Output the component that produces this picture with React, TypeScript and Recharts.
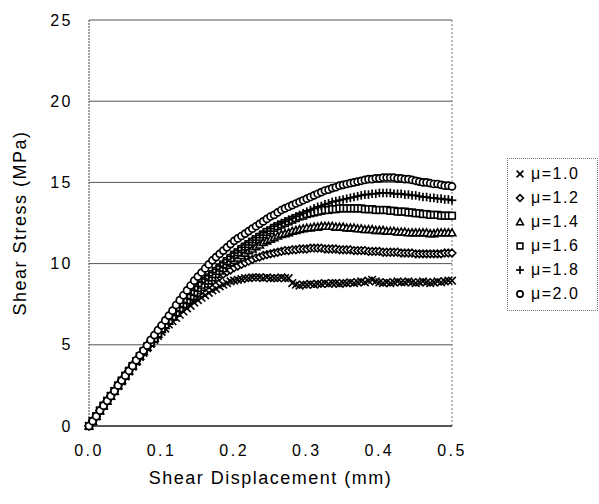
import React from "react";
import { LineChart, Line, XAxis, YAxis, CartesianGrid, ReferenceLine } from "recharts";

const xs = [
  0, 0.005, 0.01, 0.015, 0.02, 0.025, 0.03, 0.035, 0.04, 0.045,
  0.05, 0.055, 0.06, 0.065, 0.07, 0.075, 0.08, 0.085, 0.09, 0.095,
  0.1, 0.105, 0.11, 0.115, 0.12, 0.125, 0.13, 0.135, 0.14, 0.145,
  0.15, 0.155, 0.16, 0.165, 0.17, 0.175, 0.18, 0.185, 0.19, 0.195,
  0.2, 0.205, 0.21, 0.215, 0.22, 0.225, 0.23, 0.235, 0.24, 0.245,
  0.25, 0.255, 0.26, 0.265, 0.27, 0.275, 0.28, 0.285, 0.29, 0.295,
  0.3, 0.305, 0.31, 0.315, 0.32, 0.325, 0.33, 0.335, 0.34, 0.345,
  0.35, 0.355, 0.36, 0.365, 0.37, 0.375, 0.38, 0.385, 0.39, 0.395,
  0.4, 0.405, 0.41, 0.415, 0.42, 0.425, 0.43, 0.435, 0.44, 0.445,
  0.45, 0.455, 0.46, 0.465, 0.47, 0.475, 0.48, 0.485, 0.49, 0.495,
  0.5,
];

const mu10 = [
  0, 0.3, 0.6, 0.95, 1.25, 1.55, 1.85, 2.15, 2.45, 2.75,
  3.05, 3.35, 3.65, 3.95, 4.25, 4.5, 4.8, 5.05, 5.3, 5.55,
  5.8, 6.0, 6.25, 6.45, 6.65, 6.85, 7.05, 7.25, 7.4, 7.6,
  7.75, 7.9, 8.05, 8.2, 8.35, 8.45, 8.6, 8.7, 8.8, 8.9,
  8.95, 9.0, 9.05, 9.1, 9.1, 9.15, 9.15, 9.15, 9.1, 9.15,
  9.1, 9.1, 9.1, 9.15, 9.1, 9.1, 8.8, 8.7, 8.65, 8.7,
  8.7, 8.75, 8.7, 8.75, 8.75, 8.8, 8.75, 8.8, 8.8, 8.75,
  8.8, 8.8, 8.85, 8.8, 8.85, 8.9, 8.85, 8.95, 9.0, 8.9,
  8.85, 8.8, 8.85, 8.8, 8.85, 8.9, 8.85, 8.85, 8.9, 8.85,
  8.8, 8.85, 8.9, 8.85, 8.8, 8.85, 8.9, 8.85, 8.9, 8.95,
  8.95,
];

const mu12 = [
  0, 0.3, 0.6, 0.95, 1.25, 1.55, 1.85, 2.15, 2.5, 2.8,
  3.1, 3.4, 3.7, 4.0, 4.3, 4.55, 4.85, 5.1, 5.35, 5.6,
  5.9, 6.15, 6.4, 6.6, 6.85, 7.1, 7.3, 7.55, 7.75, 7.95,
  8.15, 8.35, 8.55, 8.7, 8.9, 9.05, 9.2, 9.35, 9.5, 9.6,
  9.75, 9.85, 9.95, 10.05, 10.15, 10.25, 10.35, 10.4, 10.5, 10.55,
  10.6, 10.65, 10.7, 10.75, 10.8, 10.8, 10.85, 10.85, 10.9, 10.9,
  10.9, 10.95, 10.95, 10.95, 10.95, 10.9, 10.9, 10.9, 10.9, 10.85,
  10.85, 10.85, 10.85, 10.8, 10.8, 10.8, 10.8, 10.75, 10.75, 10.75,
  10.75, 10.7, 10.7, 10.7, 10.7, 10.7, 10.65, 10.65, 10.65, 10.65,
  10.6, 10.6, 10.6, 10.6, 10.6, 10.6, 10.6, 10.6, 10.65, 10.65,
  10.65,
];

const mu14 = [
  0, 0.3, 0.6, 0.95, 1.25, 1.55, 1.85, 2.15, 2.5, 2.8,
  3.1, 3.4, 3.7, 4.0, 4.3, 4.6, 4.85, 5.1, 5.4, 5.65,
  5.95, 6.2, 6.45, 6.7, 6.95, 7.2, 7.45, 7.7, 7.9, 8.15,
  8.35, 8.55, 8.75, 8.95, 9.15, 9.35, 9.55, 9.7, 9.9, 10.05,
  10.2, 10.35, 10.5, 10.65, 10.8, 10.9, 11.05, 11.15, 11.3, 11.4,
  11.5, 11.6, 11.7, 11.8, 11.85, 11.9, 12.0, 12.05, 12.1, 12.15,
  12.2, 12.2, 12.25, 12.25, 12.3, 12.3, 12.3, 12.3, 12.25, 12.25,
  12.25, 12.2, 12.2, 12.2, 12.15, 12.15, 12.1, 12.1, 12.1, 12.05,
  12.05, 12.05, 12.0, 12.0, 12.0, 11.95, 11.95, 11.95, 11.9, 11.9,
  11.9, 11.9, 11.9, 11.9, 11.85, 11.85, 11.9, 11.9, 11.9, 11.9,
  11.9,
];

const mu16 = [
  0, 0.3, 0.6, 0.95, 1.25, 1.55, 1.85, 2.15, 2.5, 2.8,
  3.1, 3.4, 3.7, 4.0, 4.3, 4.6, 4.9, 5.15, 5.4, 5.7,
  6.0, 6.25, 6.5, 6.75, 7.0, 7.25, 7.5, 7.75, 8.0, 8.25,
  8.5, 8.7, 8.95, 9.15, 9.35, 9.55, 9.75, 9.95, 10.15, 10.35,
  10.55, 10.7, 10.9, 11.05, 11.2, 11.35, 11.5, 11.65, 11.8, 11.95,
  12.05, 12.2, 12.3, 12.4, 12.5, 12.6, 12.7, 12.8, 12.9, 12.95,
  13.05, 13.1, 13.15, 13.2, 13.25, 13.3, 13.3, 13.35, 13.35, 13.4,
  13.4, 13.4, 13.4, 13.4, 13.4, 13.4, 13.35, 13.35, 13.35, 13.3,
  13.3, 13.3, 13.3, 13.25, 13.25, 13.2, 13.2, 13.2, 13.15, 13.15,
  13.1, 13.1, 13.05, 13.05, 13.0, 13.0, 13.0, 12.95, 12.95, 12.95,
  12.95,
];

const mu18 = [
  0, 0.3, 0.6, 0.95, 1.25, 1.55, 1.85, 2.15, 2.5, 2.8,
  3.1, 3.4, 3.7, 4.0, 4.3, 4.6, 4.9, 5.2, 5.45, 5.75,
  6.05, 6.3, 6.6, 6.85, 7.1, 7.35, 7.6, 7.85, 8.1, 8.35,
  8.6, 8.85, 9.05, 9.25, 9.45, 9.65, 9.85, 10.05, 10.25, 10.45,
  10.65, 10.8, 11.0, 11.15, 11.3, 11.45, 11.6, 11.75, 11.9, 12.0,
  12.15, 12.3, 12.4, 12.5, 12.6, 12.7, 12.8, 12.9, 13.0, 13.1,
  13.2, 13.3, 13.4, 13.5, 13.55, 13.65, 13.7, 13.8, 13.85, 13.9,
  13.95, 14.0, 14.05, 14.1, 14.15, 14.2, 14.25, 14.25, 14.3, 14.3,
  14.35, 14.35, 14.35, 14.35, 14.3, 14.3, 14.3, 14.25, 14.25, 14.2,
  14.2, 14.15, 14.1, 14.1, 14.05, 14.05, 14.0, 14.0, 13.95, 13.95,
  13.9,
];

const mu20 = [
  0, 0.3, 0.6, 0.95, 1.25, 1.55, 1.85, 2.15, 2.5, 2.8,
  3.1, 3.4, 3.7, 4.05, 4.35, 4.65, 4.95, 5.3, 5.6, 5.9,
  6.2, 6.5, 6.8, 7.1, 7.45, 7.75, 8.05, 8.35, 8.65, 8.95,
  9.2, 9.45, 9.7, 9.95, 10.2, 10.4, 10.6, 10.8, 11.0, 11.2,
  11.4, 11.55, 11.7, 11.85, 12.0, 12.15, 12.3, 12.45, 12.6, 12.75,
  12.9, 13.0, 13.15, 13.3, 13.4, 13.5, 13.6, 13.7, 13.8, 13.9,
  14.0, 14.1, 14.2, 14.3, 14.4, 14.5, 14.55, 14.65, 14.7, 14.8,
  14.85, 14.9, 14.95, 15.0, 15.05, 15.1, 15.15, 15.2, 15.2, 15.25,
  15.25, 15.3, 15.3, 15.3, 15.3, 15.25, 15.25, 15.2, 15.2, 15.15,
  15.1, 15.05, 15.0, 15.0, 14.95, 14.9, 14.9, 14.85, 14.8, 14.8,
  14.75,
];

const seriesNames = ["μ=1.0", "μ=1.2", "μ=1.4", "μ=1.6", "μ=1.8", "μ=2.0"];
const seriesKeys = ["m10", "m12", "m14", "m16", "m18", "m20"];
const seriesMarkers = ["cross", "diamond", "triangle", "square", "plus", "circle"];
const seriesValues = [mu10, mu12, mu14, mu16, mu18, mu20];

const xTicks = [0, 0.1, 0.2, 0.3, 0.4, 0.5];
const yTicks = [0, 5, 10, 15, 20, 25];

const data = xs.map((x, i) => {
  const row: any = { x };
  seriesKeys.forEach((k, s) => {
    row[k] = seriesValues[s][i];
  });
  return row;
});

const FONT = "'Liberation Sans', Arial, Helvetica, sans-serif";

function Marker({ type, cx, cy, s = 3.8 }: { type: string; cx: number; cy: number; s?: number }) {
  const common = { stroke: "#000", strokeWidth: 1.6, fill: "#fff" };
  switch (type) {
    case "cross":
      return (
        <g stroke="#000" strokeWidth={1.6}>
          <line x1={cx - s} y1={cy - s} x2={cx + s} y2={cy + s} />
          <line x1={cx - s} y1={cy + s} x2={cx + s} y2={cy - s} />
        </g>
      );
    case "plus":
      return (
        <g stroke="#000" strokeWidth={1.7}>
          <line x1={cx - s - 0.5} y1={cy} x2={cx + s + 0.5} y2={cy} />
          <line x1={cx} y1={cy - s - 0.5} x2={cx} y2={cy + s + 0.5} />
        </g>
      );
    case "diamond":
      return (
        <polygon
          points={`${cx},${cy - s} ${cx + s},${cy} ${cx},${cy + s} ${cx - s},${cy}`}
          {...common}
        />
      );
    case "triangle":
      return (
        <polygon
          points={`${cx},${cy - s} ${cx + s},${cy + s * 0.8} ${cx - s},${cy + s * 0.8}`}
          {...common}
        />
      );
    case "square":
      return <rect x={cx - s + 0.5} y={cy - s + 0.5} width={2 * s - 1} height={2 * s - 1} {...common} />;
    default:
      return <circle cx={cx} cy={cy} r={s - 0.3} {...common} strokeWidth={1.7} />;
  }
}

function LegendBox() {
  return (
    <div
      style={{
        position: "absolute",
        left: 507,
        top: 158,
        width: 91,
        border: "1px dotted #777",
        background: "#fff",
        padding: "3px 0 4px 5px",
        fontFamily: FONT,
        fontSize: 16,
        letterSpacing: 1.5,
        color: "#000",
        boxSizing: "border-box",
      }}
    >
      {seriesNames.map((n, i) => (
        <div key={n} style={{ display: "flex", alignItems: "center", height: 24 }}>
          <svg width={14} height={14} style={{ marginRight: 4 }}>
            <Marker type={seriesMarkers[i]} cx={7} cy={7} s={3.4} />
          </svg>
          <span>{n}</span>
        </div>
      ))}
    </div>
  );
}

export default function App() {
  return (
    <div style={{ position: "absolute", left: 0, top: 0, width: 599, height: 504, background: "#fff" }}>
      <LineChart
        width={599}
        height={504}
        data={data}
        margin={{ top: 20, right: 147, left: 0, bottom: 0 }}
      >
        <CartesianGrid vertical={false} stroke="#555" strokeWidth={1} />
        <XAxis
          dataKey="x"
          type="number"
          domain={[0, 0.5]}
          ticks={xTicks}
          tickFormatter={(v: number) => v.toFixed(1)}
          height={78}
          tickLine={false}
          tickSize={0}
          tickMargin={19}
          axisLine={{ stroke: "#000", strokeWidth: 1.2 }}
          tick={{ fill: "#000", fontSize: 16, fontFamily: FONT, letterSpacing: 2.5 }}
          label={{
            value: "Shear Displacement (mm)",
            position: "insideBottom",
            offset: 20,
            style: { fill: "#000", fontSize: 18, fontFamily: FONT, letterSpacing: 1.5 },
          }}
        />
        <YAxis
          type="number"
          domain={[0, 25]}
          ticks={yTicks}
          width={89}
          tickLine={false}
          tickSize={0}
          tickMargin={16}
          axisLine={{ stroke: "#444", strokeWidth: 1, strokeDasharray: "2 1" }}
          tick={{ fill: "#000", fontSize: 16, fontFamily: FONT, letterSpacing: 2.5 }}
          label={{
            value: "Shear Stress (MPa)",
            angle: -90,
            position: "insideLeft",
            offset: 20,
            style: { textAnchor: "middle", fill: "#000", fontSize: 18, fontFamily: FONT, letterSpacing: 1.5 },
          }}
        />
        <ReferenceLine x={0.5} stroke="#777" strokeDasharray="2 2" />
        {seriesKeys.map((k, i) => (
          <Line
            key={k}
            dataKey={k}
            name={seriesNames[i]}
            stroke="none"
            isAnimationActive={false}
            activeDot={false}
            dot={(p: any) => <Marker key={`${k}-${p.index}`} type={seriesMarkers[i]} cx={p.cx} cy={p.cy} />}
          />
        ))}
      </LineChart>
      <LegendBox />
    </div>
  );
}
